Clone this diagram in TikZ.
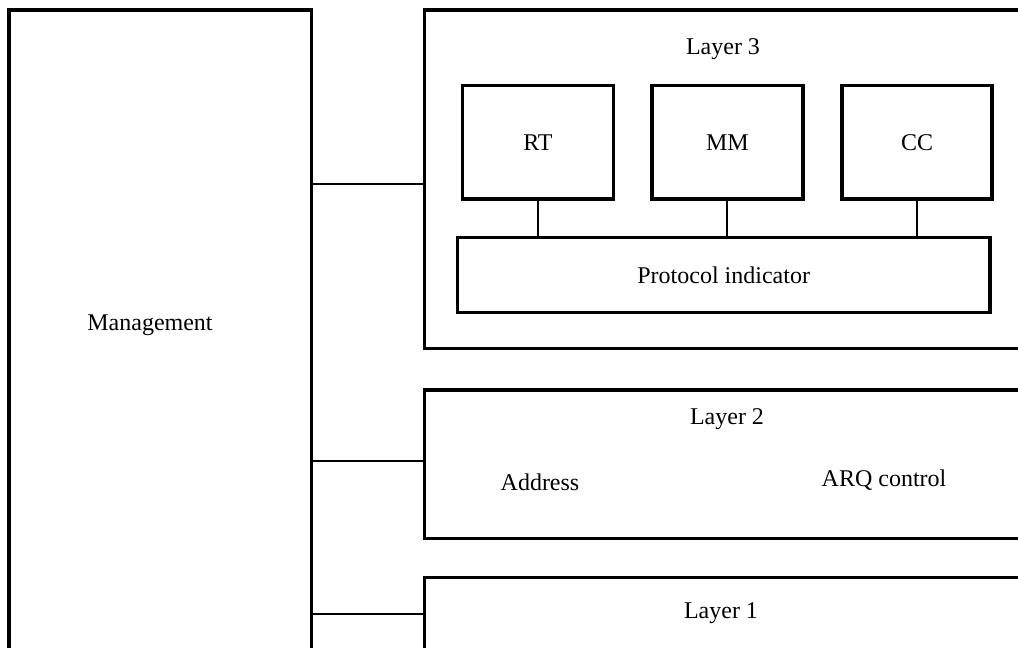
\documentclass[tikz,border=0pt]{standalone}
\usepackage{fontspec}
\setmainfont{Liberation Serif}
\begin{document}
\begin{tikzpicture}[x=1pt,y=-1pt,
  box/.style={draw=black,line width=3.3pt,rectangle,inner sep=0pt,outer sep=0pt},
  link/.style={draw=black,line width=2pt},
  lbl/.style={font=\fontsize{24}{27}\selectfont,inner sep=0pt}]
\clip (0,0) rectangle (1018,648);
\fill[white] (0,0) rectangle (1018,648);

% management column (runs off the bottom edge)
\node[box,minimum width=302.5pt,minimum height=690pt] (mgmt) at (160.25,355) {};
\node[lbl] (mgmtlbl) at (150,325) {Management};

% layer frames (run off the right edge)
\node[box,minimum width=620pt,minimum height=338.7pt] (l3) at (734.5,179.35) {};
\node[box,minimum width=620pt,minimum height=148.7pt] (l2) at (734.5,464.35) {};
\node[box,minimum width=620pt,minimum height=120pt] (l1) at (734.5,637.7) {};

\node[lbl] (l3lbl) at (723,49) {Layer 3};
\node[lbl] (l2lbl) at (727,419) {Layer 2};
\node[lbl] (l1lbl) at (721,613) {Layer 1};
\node[lbl] (addr) at (540,482) {Address};
\node[lbl] (arq) at (884,480) {ARQ control};

% layer 3 entities
\node[box,minimum width=150.7pt,minimum height=113.3pt,lbl] (rt) at (538,142.4) {RT};
\node[box,minimum width=151pt,minimum height=113.3pt,lbl] (mm) at (727.4,142.4) {MM};
\node[box,minimum width=150.2pt,minimum height=113.3pt,lbl] (cc) at (917,142.4) {CC};
\node[box,minimum width=532.6pt,minimum height=75.4pt,lbl] (pi) at (723.7,275) {Protocol indicator};

% links inside layer 3
\draw[link] (rt.south) -- (rt.south |- pi.north);
\draw[link] (mm.south) -- (mm.south |- pi.north);
\draw[link] (cc.south) -- (cc.south |- pi.north);

% management links
\draw[link] (mgmt.east |- 0,184) -- (l3.west |- 0,184);
\draw[link] (mgmt.east |- 0,461) -- (l2.west |- 0,461);
\draw[link] (mgmt.east |- 0,614.3) -- (l1.west |- 0,614.3);
\end{tikzpicture}
\end{document}
